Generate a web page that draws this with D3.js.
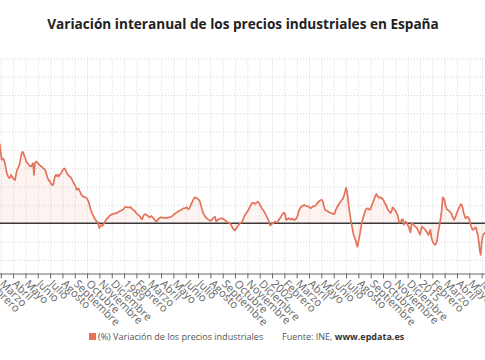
<!DOCTYPE html>
<html>
<head>
<meta charset="utf-8">
<script src="https://cdn.jsdelivr.net/npm/d3@7"></script>
<style>
body { margin: 0; background: #fff; font-family: "Open Sans", sans-serif; }
</style>
</head>
<body>
<div id="chart"></div>
<script>
// serie mensual, primer valor = enero 1978 (indice 24 desde enero 1976)
var firstIndex = 24;
var values = [
  22, 21.5, 19.1, 17.3, 17.7, 17.5, 16.8, 15.5, 14.1, 13.2, 12.7, 12.3,   // 1978
  12.5, 13.2, 12.7, 12.3, 12.0, 11.8, 13.2, 14.5, 15.0, 15.5, 16.4, 17.7, // 1979
  19.1, 19.5, 19.1, 18.2, 17.7, 16.8, 16.4, 16.2, 15.9, 15.6, 15.5, 15.9, // 1980
  16.4, 13.2, 16.4, 16.8, 16.8, 16.4, 16.2, 15.9, 15.6, 15.5, 15.2, 15.0, // 1981
  14.7, 14.4, 13.6, 12.7, 12.0, 11.6, 11.4, 10.7, 10.5, 10.4, 11.4, 12.7, // 1982
  13.2, 12.9, 13.2, 12.7, 13.2, 13.5, 13.8, 14.4, 14.7, 15.0, 14.7, 14.1, // 1983
  13.5, 13.2, 12.9, 12.7, 12.5, 12.0, 11.4, 10.9, 10.5, 10.0, 9.1, 9.4,   // 1984
  9.5, 8.9, 8.4, 7.8, 7.5, 7.3, 7.2, 7.1, 7.0, 6.7, 6.2, 5.5,             // 1985
  4.5, 3.6, 2.9, 2.3, 1.8, 1.3, 0.9, 0.5, 0.4, -0.5, -1.3, -0.7,          // 1986
  -0.5, -0.7, -0.4, 0, 0.5, 0.9, 1.3, 1.5, 1.8, 2.1, 2.3, 2.4,            // 1987
  2.5, 2.6, 2.7, 2.6, 2.8, 2.9, 3.1, 3.2, 3.4, 3.5, 3.6, 3.8,             // 1988
  4.1, 4.4, 4.4, 4.4, 4.3, 4.3, 4.4, 4.3, 4.1, 3.8, 3.6, 3.4,             // 1989
  3.1, 2.7, 2.5, 2.3, 2.0, 1.8, 1.3, 1.1, 1.8, 2.3, 2.5, 2.4,             // 1990
  2.2, 2.0, 1.8, 1.6, 1.8, 2.0, 1.6, 1.4, 1.1, 0.7, 0.5, 0.7,             // 1991
  1.1, 1.4, 1.5, 1.6, 1.6, 1.5, 1.5, 1.5, 1.5, 1.4, 1.5, 1.6,             // 1992
  1.6, 1.7, 1.8, 2.0, 2.3, 2.5, 2.7, 2.9, 3.0, 3.2, 3.4, 3.5,             // 1993
  3.6, 3.8, 4.0, 4.1, 4.1, 4.2, 4.4, 4.0, 3.8, 4.2, 4.7, 5.4,             // 1994
  5.8, 6.5, 6.9, 7.1, 6.9, 6.8, 6.6, 6.4, 5.9, 5.0, 4.0, 3.1,             // 1995
  2.5, 2.1, 1.6, 1.4, 1.2, 1.0, 0.8, 0.7, 0.8, 1.1, 1.4, 1.6,             // 1996
  1.8, 0.5, 0.7, 1.0, 1.1, 1.2, 1.3, 1.4, 1.3, 1.1, 0.9, 0.7,             // 1997
  0.5, 0.3, 0.2, 0.1, -0.1, -0.5, -1.1, -1.5, -1.8, -1.9, -1.5, -1.1,     // 1998
  -0.7, -0.4, -0.1, 0.1, 0.3, 0.7, 1.4, 2.0, 2.5, 2.8, 3.2, 3.6,          // 1999
  4.1, 4.6, 5.2, 5.5, 5.6, 5.5, 5.3, 5.5, 5.7, 5.9, 5.7, 5.2,             // 2000
  4.7, 4.2, 3.8, 3.5, 3.0, 2.6, 2.0, 1.5, 1.0, 0.2, -0.6, -0.4,           // 2001
  -0.1, 0, 0.1, 0.5, 0.3, 0.2, 0.5, 0.9, 1.3, 1.5, 2.1, 2.5,              // 2002
  2.8, 2.9, 2.3, 0.9, 1.1, 1.3, 1.4, 1.1, 1.0, 1.3, 1.2, 0.9,             // 2003
  1.0, 1.1, 1.5, 2.1, 3.2, 3.8, 4.3, 4.5, 4.7, 4.9, 5.0, 4.8,             // 2004
  4.7, 4.7, 4.6, 4.5, 4.2, 4.1, 4.4, 4.5, 4.7, 4.7, 4.8, 5.3,             // 2005
  5.6, 5.8, 6.1, 6.3, 6.4, 6.3, 5.5, 4.4, 3.6, 3.5, 3.4, 3.2,             // 2006
  3.0, 2.9, 2.8, 2.7, 2.6, 2.5, 2.6, 3.5, 4.1, 4.5, 5.0, 5.5,             // 2007
  5.7, 6.2, 6.5, 6.8, 7.7, 8.6, 9.7, 8.9, 6.8, 4.5, 2.7, 0.9,             // 2008
  -0.5, -1.8, -3.2, -3.8, -4.5, -5.6, -6.4, -5.2, -3.8, -2.4, -0.8, 0.5,  // 2009
  1.4, 2.3, 3.2, 3.8, 4.0, 4.1, 3.8, 3.7, 4.0, 4.7, 5.4, 6.1,             // 2010
  6.8, 7.5, 8.0, 7.5, 7.3, 6.9, 7.0, 7.1, 6.7, 6.5, 6.0, 5.5,             // 2011
  5.1, 4.4, 3.8, 3.5, 3.1, 2.8, 3.2, 4.3, 4.2, 3.8, 3.5, 2.9,             // 2012
  2.5, 1.6, 0.2, 0.3, 0.5, 1.1, 1.1, -0.4, 0.2, 0.5, 0.1, -0.4,           // 2013
  -0.9, -1.8, -2.5, -0.2, 0, -0.4, -0.7, -0.9, -1.1, -1.4, -2.0, -2.5,    // 2014
  -3.1, -2.0, -0.9, -1.2, -1.4, -1.6, -2.0, -2.3, -2.7, -3.2, -2.5, -1.8, // 2015
  -3.8, -4.7, -5.4, -5.6, -5.9, -5.5, -4.7, -2.7, -1.4, 0.2, 1.8, 3.8,    // 2016
  7.1, 6.8, 6.2, 4.7, 4.0, 3.7, 3.5, 3.3, 3.0, 2.7, 2.0, 1.4,             // 2017
  0.9, 1.5, 2.2, 3.0, 3.6, 4.2, 4.7, 5.2, 5.0, 4.2, 2.9, 2.1,             // 2018
  1.4, 1.5, 1.8, 1.5, 1.1, 0, -0.9, -1.6, -1.8, -1.5, -1.3, -1.1,         // 2019
  -2.3, -3.2, -5.0, -7.3, -8.6, -5.5, -3.6, -3.0, -2.7, -2.5              // 2020
];

var meses = ["Enero", "Febrero", "Marzo", "Abril", "Mayo", "Junio", "Julio",
             "Agosto", "Septiembre", "Octubre", "Noviembre", "Diciembre"];
var baseYear = 1976;
var tickStep = 13;
var yTicks = [-10, -5, 0, 5, 10, 15, 20, 25, 30, 35, 40, 45];

var fullWidth = 485;
var fullHeight = 360;
var plotTop = 58.3;
var plotBottom = 273.5;

var svg = d3.select('#chart').append('svg')
  .attr('width', fullWidth)
  .attr('height', fullHeight)
  .style('background', '#fff');

// el grafico original es mas ancho: la ventana solo muestra 1978-2020
var xScale = d3.scaleLinear()
  .domain([0, 540])
  .range([-23.9, -23.9 + 0.9485 * 540]);

var yScale = d3.scaleLinear()
  .domain([-13.7, 45])
  .range([plotBottom, plotTop]);

var tickIdx = d3.range(0, 540, tickStep);
function label(i) {
  var m = i % 12;
  return m === 0 ? String(baseYear + Math.floor(i / 12)) : meses[m];
}

// rejilla horizontal
svg.append('g')
  .attr('class', 'grid-y')
  .call(d3.axisLeft(yScale).tickValues(yTicks.filter(function(d) { return d !== 0; }))
    .tickSize(-fullWidth).tickFormat(''))
  .call(function(g) {
    g.select('.domain').remove();
    g.selectAll('line').attr('stroke', '#d4d4d4').attr('stroke-dasharray', '1,2');
  });

// rejilla vertical
svg.append('g')
  .attr('class', 'grid-x')
  .attr('transform', 'translate(0,' + plotBottom + ')')
  .call(d3.axisBottom(xScale).tickValues(tickIdx)
    .tickSize(-(plotBottom - plotTop)).tickFormat(''))
  .call(function(g) {
    g.select('.domain').remove();
    g.selectAll('line').attr('stroke', '#d4d4d4').attr('stroke-dasharray', '1,2');
  });

var data = values.map(function(v, k) { return { i: firstIndex + k, v: v }; });

var area = d3.area()
  .x(function(d) { return xScale(d.i); })
  .y0(yScale(0))
  .y1(function(d) { return yScale(d.v); });

var line = d3.line()
  .x(function(d) { return xScale(d.i); })
  .y(function(d) { return yScale(d.v); });

svg.append('path')
  .datum(data)
  .attr('d', area)
  .attr('fill', 'rgba(232,118,92,0.09)');

// linea del cero
svg.append('line')
  .attr('x1', 0).attr('x2', fullWidth)
  .attr('y1', yScale(0)).attr('y2', yScale(0))
  .attr('stroke', '#3a3a3a')
  .attr('stroke-width', 1.3);

svg.append('path')
  .datum(data)
  .attr('d', line)
  .attr('fill', 'none')
  .attr('stroke', '#e4735a')
  .attr('stroke-width', 1.7)
  .attr('stroke-linejoin', 'round');

// eje x
var xAxis = svg.append('g')
  .attr('class', 'x axis')
  .attr('transform', 'translate(0,' + plotBottom + ')')
  .call(d3.axisBottom(xScale).tickValues(tickIdx).tickSize(5).tickFormat(label));

xAxis.select('.domain').attr('stroke', '#666').attr('d', 'M0,0.5H' + fullWidth);
xAxis.selectAll('.tick line').attr('stroke', '#666');
xAxis.selectAll('.tick text')
  .attr('font-family', '"Open Sans", sans-serif')
  .attr('font-size', 11)
  .attr('fill', '#666')
  .attr('text-anchor', 'start')
  .attr('dy', 0)
  .attr('y', 0)
  .attr('transform', 'translate(-2,11) rotate(45)');

// titulo
svg.append('text')
  .attr('x', 243)
  .attr('y', 29)
  .attr('text-anchor', 'middle')
  .attr('font-family', '"Open Sans", sans-serif')
  .attr('font-weight', 'bold')
  .attr('font-size', 13.6)
  .attr('fill', '#222')
  .text('Variación interanual de los precios industriales en España');

// leyenda y fuente
svg.append('rect')
  .attr('x', 89).attr('y', 333)
  .attr('width', 7).attr('height', 7)
  .attr('fill', '#e4735a');

svg.append('text')
  .attr('x', 98).attr('y', 340)
  .attr('font-family', '"Open Sans", sans-serif')
  .attr('font-size', 9)
  .attr('fill', '#555')
  .text('(%) Variación de los precios industriales');

var src = svg.append('text')
  .attr('x', 282).attr('y', 340)
  .attr('font-family', '"Open Sans", sans-serif')
  .attr('font-size', 9)
  .attr('fill', '#555');
src.append('tspan').text('Fuente: INE, ');
src.append('tspan').attr('font-weight', 'bold').attr('fill', '#333').text('www.epdata.es');
</script>
</body>
</html>
